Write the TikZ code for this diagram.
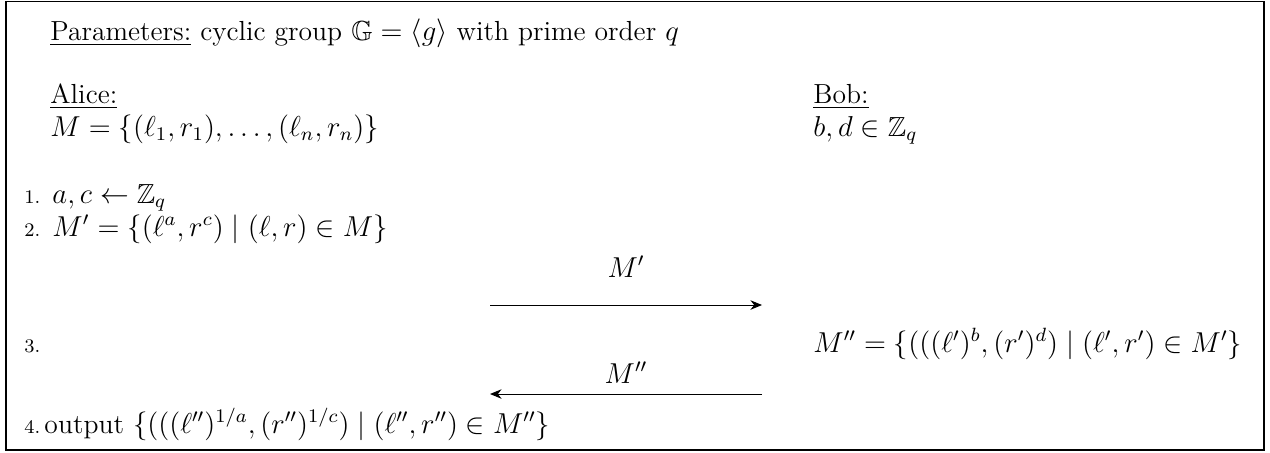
\documentclass[tikz,border=0pt]{standalone}
\usepackage{amsmath,amssymb}
\usepackage{tikz}
\usetikzlibrary{arrows.meta,positioning}
\tikzset{
  msg/.style={-{Stealth[length=1.7mm,width=1.4mm]},thin},
  txt/.style={anchor=base west,inner sep=0pt},
  num/.style={anchor=base west,inner sep=0pt,font=\fontsize{8pt}{9.6pt}\selectfont}
}

\begin{document}
\begin{tikzpicture}[x=0.4167pt,y=-0.4167pt,font=\fontsize{11.5pt}{13.8pt}\selectfont]
\useasboundingbox (0,0) rectangle (1270,452);
\draw[line width=0.6pt] (6,1.5) rectangle (1264,450);
% header and parties
\node[txt] (params) at (50,40) {\underline{Parameters:} cyclic group $\mathbb{G}=\langle g\rangle$ with prime order $q$};
\node[txt] (alice) at (50,103) {\underline{Alice:}};
\node[txt] (aliceset) at (50,136) {$M=\{(\ell_1,r_1),\dots,(\ell_n,r_n)\}$};
\node[txt] (bob) at (813,103) {\underline{Bob:}};
\node[txt] (bobkey) at (813,136) {$b,d\in\mathbb{Z}_q$};
% steps
\node[num] (n1) at (24,203) {1.};
\node[txt] (step1) at (52,203) {$a,c\gets\mathbb{Z}_q$};
\node[num] (n2) at (24,236) {2.};
\node[txt] (step2) at (52,236) {$M'=\{(\ell^a,r^c)\mid(\ell,r)\in M\}$};
\node[num] (n3) at (24,352) {3.};
\node[txt] (step3) at (813,352) {$M''=\{(((\ell')^b,(r')^d)\mid(\ell',r')\in M'\}$};
\node[num] (n4) at (24,433) {4.};
\node[txt] (step4) at (44,433) {output $\{(((\ell'')^{1/a},(r'')^{1/c})\mid(\ell'',r'')\in M''\}$};
% messages
\coordinate (sa) at (490,305);
\coordinate (sb) at (762,305);
\coordinate (ra) at (490,394);
\coordinate (rb) at (762,394);
\draw[msg] (sa) -- node[midway,above=8pt] (lab1) {$M'$} (sb);
\draw[msg] (rb) -- node[midway,above=1pt] (lab2) {$M''$} (ra);
\end{tikzpicture}
\end{document}
